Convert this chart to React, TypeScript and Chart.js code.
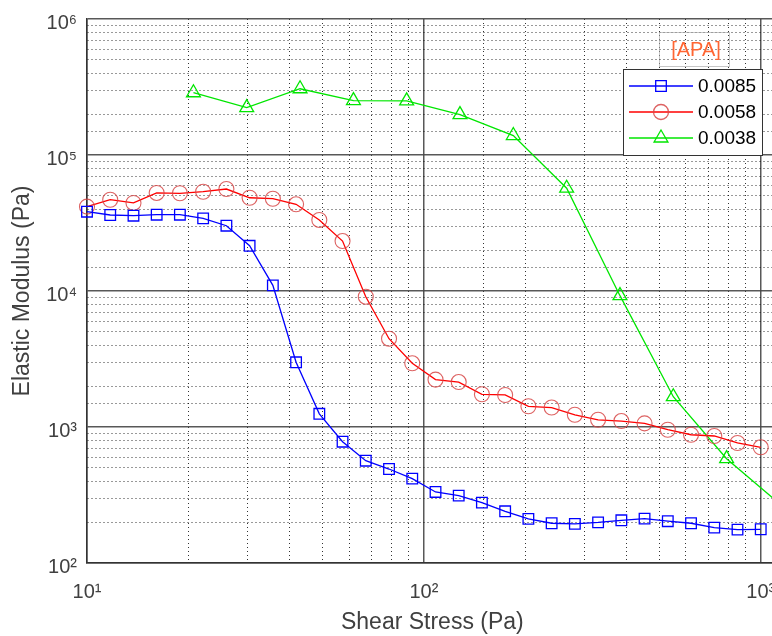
import { useEffect, useRef } from 'react';
import { Chart, registerables } from 'chart.js';

Chart.register(...registerables);

// Shear stress (Pa) sampled for the 0.0085 and 0.0058 series
const SHEAR_STRESS = [
  10, 11.72, 13.74, 16.1, 18.87, 22.12, 25.93, 30.39, 35.62, 41.75,
  48.94, 57.36, 67.23, 78.81, 92.37, 108.3, 126.9, 148.7, 174.3, 204.3,
  239.5, 280.7, 329.0, 385.7, 452.0, 529.8, 621.0, 727.9, 853.2, 1000,
];
const MODULUS_0085 = [
  38300, 36200, 35800, 36400, 36400, 34200, 30200, 21500, 11000, 2990,
  1250, 780, 565, 491, 417, 333, 313, 278, 240, 211,
  196, 194, 199, 206, 212, 203, 196, 182, 176, 177,
];
const MODULUS_0058 = [
  41700, 46900, 44400, 52600, 52300, 53700, 56200, 48500, 47700, 43400,
  33300, 23300, 9080, 4460, 2940, 2230, 2140, 1740, 1720, 1420,
  1390, 1230, 1130, 1106, 1064, 955, 877, 859, 763, 709,
];
// Shear stress (Pa) sampled for the 0.0038 series
const SHEAR_STRESS_0038 = [20.7, 29.8, 42.9, 61.8, 88.9, 128.0, 184.3, 265.4, 382.1, 550.1, 792.0, 1140];
const MODULUS_0038 = [287000, 223000, 307000, 251000, 250000, 198000, 139000, 57000, 9240, 1670, 585, 272];

const SERIES_LABELS = ['0.0085', '0.0058', '0.0038'];
const X_TICK_VALUES = [10, 100, 1000];
const X_TICK_LABELS = ['10¹', '10²', '10³'];
const Y_TICK_VALUES = [100, 1000, 10000, 100000, 1000000];
const Y_TICK_LABELS = ['10²', '10³', '10⁴', '10⁵', '10⁶'];
const ANNOTATION_TEXT = '[APA]';
const X_TITLE = 'Shear Stress (Pa)';
const Y_TITLE = 'Elastic Modulus (Pa)';

const FONT = "'Liberation Sans', Arial, Helvetica, sans-serif";

const isMajor = (v: number) => {
  const l = Math.log10(v);
  return Math.abs(l - Math.round(l)) < 1e-9;
};

const labelFor = (values: number[], labels: string[]) => (v: number) => {
  const idx = values.findIndex((t) => Math.abs(t - v) / t < 1e-9);
  return idx >= 0 ? labels[idx] : '';
};

function drawMarker(ctx: CanvasRenderingContext2D, style: string, x: number, y: number, r: number) {
  ctx.beginPath();
  if (style === 'rect') {
    const s = Math.SQRT1_2 * r;
    ctx.rect(x - s, y - s, 2 * s, 2 * s);
  } else if (style === 'triangle') {
    ctx.moveTo(x, y - r);
    ctx.lineTo(x + 0.866 * r, y + r / 2);
    ctx.lineTo(x - 0.866 * r, y + r / 2);
    ctx.closePath();
  } else {
    ctx.arc(x, y, r, 0, Math.PI * 2);
  }
  ctx.stroke();
}

const boxLegendPlugin = {
  id: 'boxLegend',
  afterDraw(chart: any) {
    const { ctx, chartArea, scales } = chart;
    const right = Math.round(scales.x.getPixelForValue(1000)) + 1;
    const top = chartArea.top + 50;
    const w = 139;
    const h = 86;
    const left = right - w;
    ctx.save();
    // annotation box
    ctx.strokeStyle = 'rgba(160,160,160,0.6)';
    ctx.lineWidth = 1;
    ctx.strokeRect(right - 103 + 0.5, chartArea.top + 13 + 0.5, 70, 34);
    ctx.fillStyle = '#ff6633';
    ctx.font = `20px ${FONT}`;
    ctx.textAlign = 'center';
    ctx.textBaseline = 'middle';
    ctx.fillText(ANNOTATION_TEXT, right - 66, chartArea.top + 31);
    // legend box
    ctx.fillStyle = '#ffffff';
    ctx.fillRect(left, top, w, h);
    ctx.strokeStyle = '#333333';
    ctx.lineWidth = 1;
    ctx.strokeRect(left + 0.5, top + 0.5, w, h);
    chart.data.datasets.forEach((ds: any, i: number) => {
      const y = top + 17 + i * 26;
      ctx.strokeStyle = ds.borderColor;
      ctx.lineWidth = 1.3;
      ctx.beginPath();
      ctx.moveTo(left + 6, y);
      ctx.lineTo(left + 70, y);
      ctx.stroke();
      ctx.strokeStyle = ds.pointBorderColor;
      ctx.lineWidth = 1.3;
      drawMarker(ctx, ds.pointStyle, left + 38, y, ds.pointRadius);
      ctx.fillStyle = '#000000';
      ctx.font = `19px ${FONT}`;
      ctx.textAlign = 'left';
      ctx.textBaseline = 'middle';
      ctx.fillText(ds.label, left + 75, y + 1);
    });
    ctx.restore();
  },
};

export default function App() {
  const canvasRef = useRef<HTMLCanvasElement | null>(null);

  useEffect(() => {
    const canvas = canvasRef.current;
    if (!canvas) return;

    const toPoints = (xs: number[], ys: number[]) => xs.map((x, i) => ({ x, y: ys[i] }));

    const gridColor = (c: any) => (c.tick && isMajor(c.tick.value) ? 'rgba(70,70,70,0.9)' : 'rgba(0,0,0,0.8)');
    const gridWidth = (c: any) => (c.tick && isMajor(c.tick.value) ? 1.5 : 1);
    const gridDash = (c: any) => (c.tick && !isMajor(c.tick.value) ? [1, 3] : []);

    const chart = new Chart(canvas, {
      type: 'line',
      data: {
        datasets: [
          {
            label: SERIES_LABELS[0],
            data: toPoints(SHEAR_STRESS, MODULUS_0085),
            borderColor: '#0000ff',
            pointBorderColor: '#0000ff',
            pointBackgroundColor: 'rgba(0,0,0,0)',
            pointStyle: 'rect',
            pointRadius: 7.5,
            pointBorderWidth: 1.3,
            borderWidth: 1.3,
            tension: 0,
            clip: false,
          },
          {
            label: SERIES_LABELS[1],
            data: toPoints(SHEAR_STRESS, MODULUS_0058),
            borderColor: '#ff0000',
            pointBorderColor: 'rgba(215,70,70,0.85)',
            pointBackgroundColor: 'rgba(0,0,0,0)',
            pointStyle: 'circle',
            pointRadius: 7.5,
            pointBorderWidth: 1.1,
            borderWidth: 1.3,
            tension: 0,
            clip: false,
          },
          {
            label: SERIES_LABELS[2],
            data: toPoints(SHEAR_STRESS_0038, MODULUS_0038),
            borderColor: '#00e600',
            pointBorderColor: '#00e600',
            pointBackgroundColor: 'rgba(0,0,0,0)',
            pointStyle: 'triangle',
            pointRadius: 8,
            pointBorderWidth: 1.3,
            borderWidth: 1.3,
            tension: 0,
            clip: false,
          },
        ] as any,
      },
      options: {
        responsive: false,
        animation: false,
        events: [],
        layout: { padding: { top: 19, right: 3, left: 0, bottom: 0 } },
        plugins: {
          legend: { display: false },
          tooltip: { enabled: false },
        },
        scales: {
          x: {
            type: 'logarithmic',
            min: 10,
            max: 1123,
            afterFit: (s: any) => {
              s.height = 73;
              s.paddingLeft = 0;
              s.paddingRight = 0;
            },
            grid: { color: gridColor, lineWidth: gridWidth, drawTicks: false },
            border: { display: true, color: '#333333', width: 1.5, dash: gridDash },
            ticks: {
              autoSkip: false,
              maxRotation: 0,
              minRotation: 0,
              padding: 17,
              color: '#404040',
              font: { family: FONT, size: 20 },
              callback: (v: any) => labelFor(X_TICK_VALUES, X_TICK_LABELS)(Number(v)),
            },
            title: {
              display: true,
              text: X_TITLE,
              color: '#404040',
              font: { family: FONT, size: 23, weight: 'normal' },
              padding: { top: 0, bottom: 0 },
            },
          },
          y: {
            type: 'logarithmic',
            min: 100,
            max: 1000000,
            afterFit: (s: any) => {
              s.width = 87;
              s.paddingTop = 0;
              s.paddingBottom = 0;
            },
            grid: { color: gridColor, lineWidth: gridWidth, drawTicks: false },
            border: { display: true, color: '#333333', width: 1.5, dash: gridDash },
            ticks: {
              autoSkip: false,
              padding: 10,
              labelOffset: 4,
              color: '#404040',
              font: { family: FONT, size: 20 },
              callback: (v: any) => labelFor(Y_TICK_VALUES, Y_TICK_LABELS)(Number(v)),
            },
            title: {
              display: true,
              text: Y_TITLE,
              color: '#404040',
              font: { family: FONT, size: 23, weight: 'normal' },
              padding: { top: 9, bottom: 0 },
            },
          },
        },
      } as any,
      plugins: [boxLegendPlugin],
    });

    return () => {
      chart.destroy();
    };
  }, []);

  return (
    <div
      style={{
        position: 'absolute',
        left: 0,
        top: 0,
        width: 772,
        height: 636,
        overflow: 'hidden',
        background: '#ffffff',
      }}
    >
      <canvas ref={canvasRef} width={787} height={636} style={{ display: 'block' }} />
    </div>
  );
}
